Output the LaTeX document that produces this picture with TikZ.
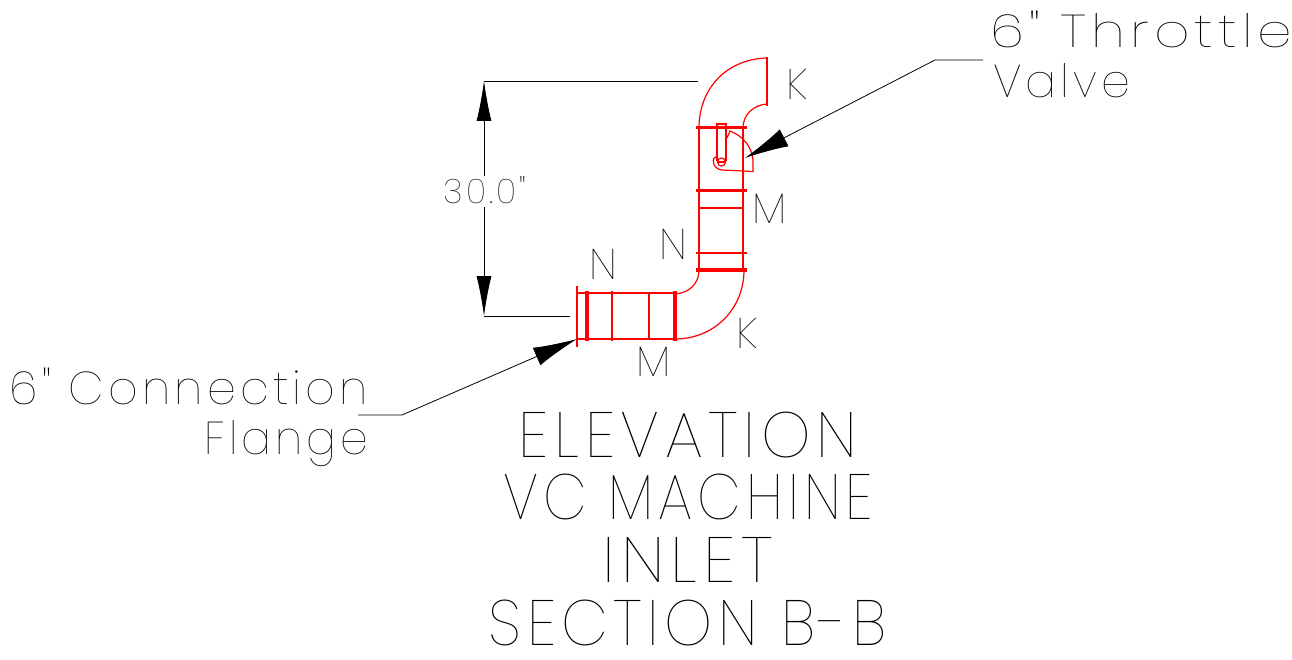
\documentclass[tikz,border=0pt]{standalone}
\usepackage{fontspec}
\usetikzlibrary{arrows.meta}
\newfontfamily\cadfont[LetterSpace=9]{Poppins Thin}
\definecolor{pipered}{RGB}{255,0,0}
\tikzset{
  pipe/.style={draw=pipered, line width=1.2pt},
  band/.style={draw=pipered, line width=#1},
  band/.default=3pt,
  leader/.style={draw=black, line width=0.8pt, -{Latex[length=44pt,width=19pt]}},
  dimarrow/.style={draw=black, line width=0.8pt, -{Latex[length=40pt,width=15pt]}},
  extline/.style={draw=black, line width=0.8pt},
  tag/.style={inner sep=0pt, text=black, font=\fontsize{43}{43}\selectfont\cadfont},
  note/.style={inner sep=0pt, text=black, text height=32pt, text depth=0pt, font=\fontsize{46}{46}\selectfont\cadfont},
  heading/.style={inner sep=0pt, text=black, text height=42pt, text depth=0pt, font=\fontsize{64}{64}\selectfont\cadfont}
}
\begin{document}
\begin{tikzpicture}
  [
    x=1pt, y=-1pt
  ]
  \useasboundingbox (0, 0) rectangle (1292, 660);
  % upper elbow
  \draw [pipe] (699, 128) .. controls (699, 88) and (727, 59) .. (767, 58);
  \draw [pipe] (743, 128) .. controls (743, 115) and (753, 105) .. (767, 104);
  \draw [band=2.5pt] (767, 57) -- (767, 106);
  % vertical run
  \draw [pipe] (699, 128) -- (699, 270);
  \draw [pipe] (743, 128) -- (743, 270);
  \draw [pipe] (699, 208) -- (743, 208);
  \foreach \pos/\wid in {128/3pt, 191/3pt, 253/2.5pt, 270/3.5pt}{
    \draw [band=\wid] (696, \pos) -- (747, \pos);
  }
  % lower elbow
  \draw [pipe] (699, 270) .. controls (699, 284) and (689, 293) .. (675, 294);
  \draw [pipe] (744, 270) .. controls (744, 309) and (714, 339) .. (675, 339);
  % horizontal run
  \draw [pipe] (577, 293) -- (675, 293);
  \draw [pipe] (577, 339) -- (675, 339);
  \draw [pipe] (649, 293) -- (649, 339);
  \foreach \pos/\wid in {675/4pt, 612/2.5pt, 587/3.5pt}{
    \draw [band=\wid] (\pos, 291) -- (\pos, 341);
  }
  \draw [band=2pt] (577, 286) -- (577, 347);
  % valve
  \draw [pipe] (717, 161) -- (717, 124) -- (726, 124) -- (726, 161);
  \draw [pipe] (721.5, 162) circle (4);
  \draw [pipe] (717, 156) .. controls (711, 157) and (712, 169) .. (722, 170) -- (753, 171.5) -- (753, 160) .. controls (752, 147) and (743, 136) .. (730, 131) -- (727, 138);
  \draw [pipe] (717.5, 162) -- (725.5, 162);
  % dimension
  \node [font=\fontsize{34}{34}\selectfont\cadfont, inner sep=0pt] at (485, 190) (dimtext) {30.0"};
  \coordinate (dimtop) at (484, 81);
  \coordinate (dimbot) at (484, 316);
  \coordinate (exttop) at (698, 81);
  \coordinate (extbot) at (570, 316);
  \draw [extline] (exttop) -- (dimtop);
  \draw [extline] (extbot) -- (dimbot);
  \draw [dimarrow] (484, 176) -- (dimtop);
  \draw [dimarrow] (484, 207) -- (dimbot);
  % labels
  \foreach \name/\xx/\yy/\txt in {ka/797/84/K, kb/747/333/K, ma/770/209/M, mb/654/362/M, na/603/264/N, nb/673/244/N}{
    \node [tag] at (\xx, \yy) (\name) {\txt};
  }
  \node [note, anchor=west] at (990, 32) (throttle) {\scalebox{1.2}[1]{6" Throttle}};
  \node [note, anchor=west] at (993, 82) (valve) {Valve};
  \node [note, anchor=east] at (368, 388) (connection) {6" Connection};
  \node [note, anchor=east] at (368, 438) (flange) {\scalebox{0.96}[1]{Flange}};
  \coordinate (valvetip) at (745, 158);
  \coordinate (flangetip) at (577, 339);
  \draw [leader] (983, 60) -- (935, 60) -- (valvetip);
  \draw [leader] (358, 415) -- (402, 415) -- (flangetip);
  % title
  \foreach \name/\yy/\sx/\txt in {tia/436/0.98/ELEVATION, tib/498/0.885/VC MACHINE, tic/561/1.05/INLET, tid/624/0.95/SECTION B-B}{
    \node [heading] at (688, \yy) (\name) {\scalebox{\sx}[1]{\txt}};
  }
\end{tikzpicture}
\end{document}
